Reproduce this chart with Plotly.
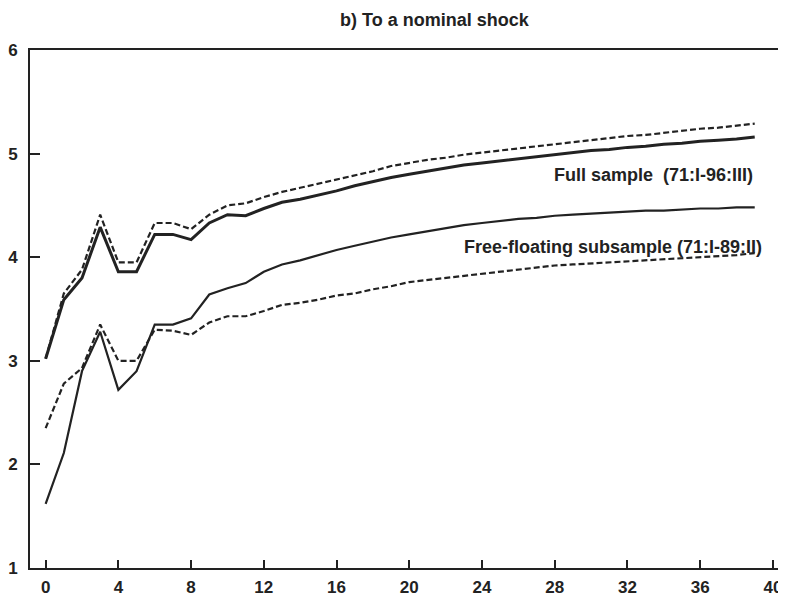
import plotly.graph_objects as go

quarters = list(range(40))

full_sample = [3.02, 3.59, 3.80, 4.29, 3.86, 3.86, 4.22, 4.22, 4.17, 4.33,
               4.41, 4.40, 4.47, 4.53, 4.56, 4.60, 4.64, 4.69, 4.73, 4.77,
               4.80, 4.83, 4.86, 4.89, 4.91, 4.93, 4.95, 4.97, 4.99, 5.01,
               5.03, 5.04, 5.06, 5.07, 5.09, 5.10, 5.12, 5.13, 5.14, 5.16]

full_sample_band = [3.02, 3.65, 3.88, 4.41, 3.95, 3.95, 4.33, 4.33, 4.27, 4.41,
                    4.50, 4.52, 4.58, 4.63, 4.67, 4.71, 4.75, 4.79, 4.83, 4.88,
                    4.91, 4.94, 4.96, 4.99, 5.01, 5.03, 5.05, 5.07, 5.09, 5.11,
                    5.13, 5.15, 5.17, 5.18, 5.20, 5.22, 5.24, 5.25, 5.27, 5.29]

free_floating = [1.62, 2.11, 2.90, 3.28, 2.72, 2.90, 3.35, 3.35, 3.41, 3.64,
                 3.70, 3.75, 3.86, 3.93, 3.97, 4.02, 4.07, 4.11, 4.15, 4.19,
                 4.22, 4.25, 4.28, 4.31, 4.33, 4.35, 4.37, 4.38, 4.40, 4.41,
                 4.42, 4.43, 4.44, 4.45, 4.45, 4.46, 4.47, 4.47, 4.48, 4.48]

free_floating_band = [2.35, 2.78, 2.93, 3.35, 3.00, 3.00, 3.30, 3.29, 3.25, 3.37,
                      3.43, 3.43, 3.48, 3.54, 3.56, 3.59, 3.63, 3.65, 3.69, 3.72,
                      3.76, 3.78, 3.80, 3.82, 3.84, 3.86, 3.88, 3.90, 3.92, 3.93,
                      3.94, 3.95, 3.96, 3.97, 3.98, 3.99, 4.00, 4.01, 4.02, 4.04]

x_ticks = [0, 4, 8, 12, 16, 20, 24, 28, 32, 36, 40]
y_ticks = [1, 2, 3, 4, 5, 6]

ink = "#222222"
font_family = "Liberation Sans, Arial, Helvetica, sans-serif"

fig = go.Figure()
fig.add_trace(go.Scatter(x=quarters, y=full_sample_band, mode="lines",
                         line=dict(color=ink, width=2.2, dash="6px,3px")))
fig.add_trace(go.Scatter(x=quarters, y=full_sample, mode="lines",
                         line=dict(color=ink, width=3)))
fig.add_trace(go.Scatter(x=quarters, y=free_floating_band, mode="lines",
                         line=dict(color=ink, width=2.2, dash="6px,3px")))
fig.add_trace(go.Scatter(x=quarters, y=free_floating, mode="lines",
                         line=dict(color=ink, width=2.2)))

fig.add_annotation(x=39, y=4.79, xref="x", yref="y", text="<b>Full sample  (71:I-96:III)</b>",
                   showarrow=False, xanchor="right", yanchor="middle",
                   font=dict(family=font_family, size=18, color=ink))
fig.add_annotation(x=39.5, y=4.10, xref="x", yref="y", text="<b>Free-floating subsample (71:I-89:II)</b>",
                   showarrow=False, xanchor="right", yanchor="middle",
                   font=dict(family=font_family, size=18, color=ink))
fig.add_annotation(x=21.4, y=1, xref="x", yref="paper", text="<b>b) To a nominal shock</b>",
                   showarrow=False, xanchor="center", yanchor="middle", yshift=30,
                   font=dict(family=font_family, size=18, color=ink))

# the page body has an 8px default margin, so the plot area is offset to compensate
fig.update_layout(
    width=786, height=600,
    margin=dict(l=22, r=8, t=42, b=40),
    paper_bgcolor="white", plot_bgcolor="white",
    showlegend=False,
    xaxis=dict(range=[-0.86, 40.72], tickvals=x_ticks, ticks="inside", ticklen=8, tickwidth=2,
               tickcolor=ink, showline=True, linecolor=ink, linewidth=2, mirror=True,
               showgrid=False, zeroline=False, ticklabeloverflow="allow",
               ticklabelstandoff=3, automargin=False,
               tickfont=dict(family=font_family, size=17, color=ink, weight="bold")),
    yaxis=dict(range=[1, 6], tickvals=y_ticks, ticks="inside", ticklen=10, tickwidth=2,
               tickcolor=ink, showline=True, linecolor=ink, linewidth=2, mirror=False,
               showgrid=False, zeroline=False, ticklabelstandoff=7, automargin=False,
               tickfont=dict(family=font_family, size=17, color=ink, weight="bold")),
    font=dict(family=font_family, color=ink),
)

fig.write_html("out.html")
